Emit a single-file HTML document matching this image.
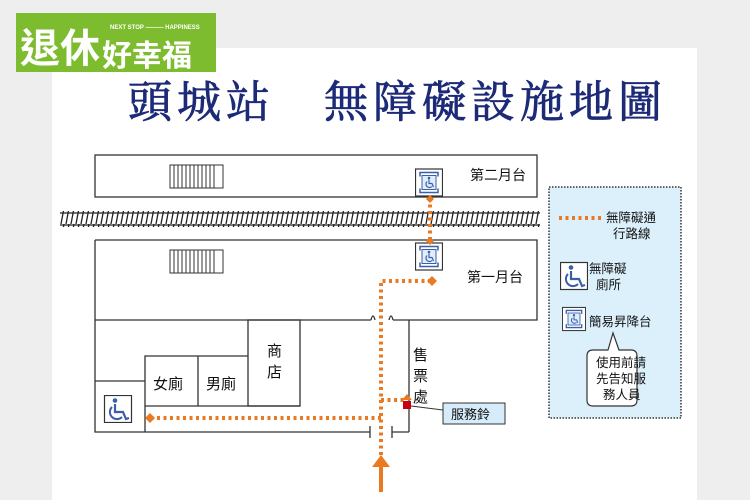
<!DOCTYPE html>
<html><head><meta charset="utf-8"><style>
html,body{margin:0;padding:0;background:#eeeeee;}
svg{display:block}
text{font-family:"Liberation Sans","Noto Sans CJK TC",sans-serif;fill:#111}
</style></head><body>
<svg width="750" height="500" viewBox="0 0 750 500" xmlns="http://www.w3.org/2000/svg">
<defs>
<symbol id="wc" viewBox="0 0 28 28">
<rect x="0.5" y="0.5" width="27" height="27" fill="#fff" stroke="#333" stroke-width="1.2"/>
<circle cx="11" cy="5.5" r="2.3" fill="#3a5ea8"/>
<path d="M11 9 L11 17 L19 17 L22 24 L25 23" fill="none" stroke="#3a5ea8" stroke-width="2.2"/>
<path d="M8 12 A7 7 0 1 0 18 22" fill="none" stroke="#3a5ea8" stroke-width="2"/>
</symbol>
<symbol id="lift" viewBox="0 0 28 28">
<rect x="0.5" y="0.5" width="27" height="27" fill="#fff" stroke="#333" stroke-width="1.2"/>
<path d="M5 8 V4 H23 V8 M5 20 V24 H23 V20" fill="none" stroke="#3a5ea8" stroke-width="1.5"/>
<rect x="7" y="7" width="14" height="14" fill="#dfeefa" stroke="#3a5ea8" stroke-width="1"/>
<circle cx="14" cy="9.5" r="1.3" fill="#3a5ea8"/>
<path d="M14 11 V15 H17 L18.5 18.5 M12 13 A3.5 3.5 0 1 0 17 18" fill="none" stroke="#3a5ea8" stroke-width="1.2"/>
</symbol>
<pattern id="hatch" width="5" height="16" patternUnits="userSpaceOnUse">
<line x1="4" y1="0" x2="1" y2="16" stroke="#222" stroke-width="1.3"/>
</pattern>
</defs>
<rect x="52" y="48" width="645" height="452" fill="#fff"/>
<!-- logo -->
<rect x="16" y="13" width="200" height="59" fill="#7cbc2e"/>
<text x="20" y="62" font-size="40" font-weight="bold" style="fill:#fff">退休</text>
<text x="102" y="66" font-size="30" font-weight="bold" style="fill:#fff">好幸福</text>
<text x="110" y="29" font-size="6" font-weight="bold" style="fill:#fff">NEXT STOP ——— HAPPINESS</text>
<!-- title -->
<text x="128" y="117" font-size="44" style="fill:#1c2a78;stroke:#1c2a78;stroke-width:0.8;font-family:'Liberation Serif','Noto Serif CJK SC',serif" letter-spacing="5">頭城站　無障礙設施地圖</text>
<g stroke="#333" stroke-width="1.3" fill="none">
<rect x="95" y="155" width="442" height="42"/>
<path d="M95 240 H537 V320 H393 M389 320 q2 -8 4 0 M371 320 q2 -8 4 0 M371 320 H95 V240 M95 320 V432 H370 M392 432 H409 M409 320 V432 M370 426 V438 M392 426 V438"/>
<rect x="248" y="320" width="52" height="86"/>
<path d="M145 406 V356 H248 M198 356 V406 M145 406 H300 M95 381 H145 V432"/>
</g>
<!-- stairs -->
<g stroke="#333" stroke-width="1" fill="none">
<rect x="170" y="165" width="53" height="23"/>
<path d="M174 165v23M178 165v23M182 165v23M186 165v23M190 165v23M194 165v23M198 165v23M202 165v23M206 165v23M210 165v23M214 165v23"/>
<rect x="170" y="250" width="53" height="23"/>
<path d="M174 250v23M178 250v23M182 250v23M186 250v23M190 250v23M194 250v23M198 250v23M202 250v23M206 250v23M210 250v23M214 250v23"/>
</g>
<!-- tracks -->
<rect x="60" y="211" width="480" height="16" fill="url(#hatch)"/>
<path d="M60 213 H540 M60 225 H540" stroke="#222" stroke-width="1.3"/>
<!-- icons -->
<use href="#lift" x="415" y="168" width="28" height="29"/>
<use href="#lift" x="415" y="242" width="28" height="29"/>
<use href="#wc" x="103" y="395" width="30" height="28"/>
<!-- path -->
<g stroke="#ea7a22" stroke-width="4" stroke-dasharray="3 3.5" fill="none">
<path d="M381 455 V281 H430"/>
<path d="M430 198 V242"/>
<path d="M381 418 H152"/>
<path d="M381 400 H405"/>
</g>
<g fill="#ea7a22">
<path d="M432 276 l5 5 -5 5 -5 -5z"/>
<path d="M150 413 l5 5 -5 5 -5 -5z"/>
<path d="M430 195 l4 4 -4 4 -4 -4z M430 237 l4 4 -4 4 -4 -4z"/>
<path d="M372 467 L381 455 L390 467z"/>
<rect x="379" y="465" width="4" height="27"/>
<path d="M402 400 l5 -6 5 6z"/>
</g>
<rect x="403" y="401" width="8" height="8" fill="#c8000f"/>
<path d="M411 406 L443 410" stroke="#333" stroke-width="1"/>
<rect x="443" y="403" width="62" height="21" fill="#d6ecfa" stroke="#333" stroke-width="1"/>
<text x="451" y="419" font-size="13">服務鈴</text>
<!-- labels -->
<text x="470" y="180" font-size="14">第二月台</text>
<text x="467" y="282" font-size="14">第一月台</text>
<text x="267" y="356" font-size="15">商</text>
<text x="267" y="377" font-size="15">店</text>
<text x="153" y="389" font-size="15">女廁</text>
<text x="206" y="389" font-size="15">男廁</text>
<text x="413" y="360" font-size="15">售</text>
<text x="413" y="381" font-size="15">票</text>
<text x="413" y="402" font-size="15">處</text>
<!-- legend -->
<rect x="549" y="187" width="132" height="231" fill="#dcf0fc" stroke="#333" stroke-width="1.5" stroke-dasharray="1.5 1.5"/>
<path d="M559 218 H603" stroke="#ea7a22" stroke-width="4" stroke-dasharray="3 3.5"/>
<text x="606" y="222" font-size="12.5">無障礙通</text>
<text x="613" y="238" font-size="12.5">行路線</text>
<use href="#wc" x="560" y="261" width="28" height="30"/>
<text x="589" y="273" font-size="12.5">無障礙</text>
<text x="596" y="289" font-size="12.5">廁所</text>
<use href="#lift" x="562" y="305" width="24" height="28"/>
<text x="589" y="326" font-size="12.5">簡易昇降台</text>
<path d="M593 350 H608 L613 333 L619 350 H631 q6 0 6 6 V400 q0 6 -6 6 H593 q-6 0 -6 -6 V356 q0 -6 6 -6z" fill="#fff" stroke="#333" stroke-width="1.2"/>
<text x="596" y="367" font-size="12.5">使用前請</text>
<text x="596" y="383" font-size="12.5">先告知服</text>
<text x="603" y="399" font-size="12.5">務人員</text>
</svg>
</body></html>
